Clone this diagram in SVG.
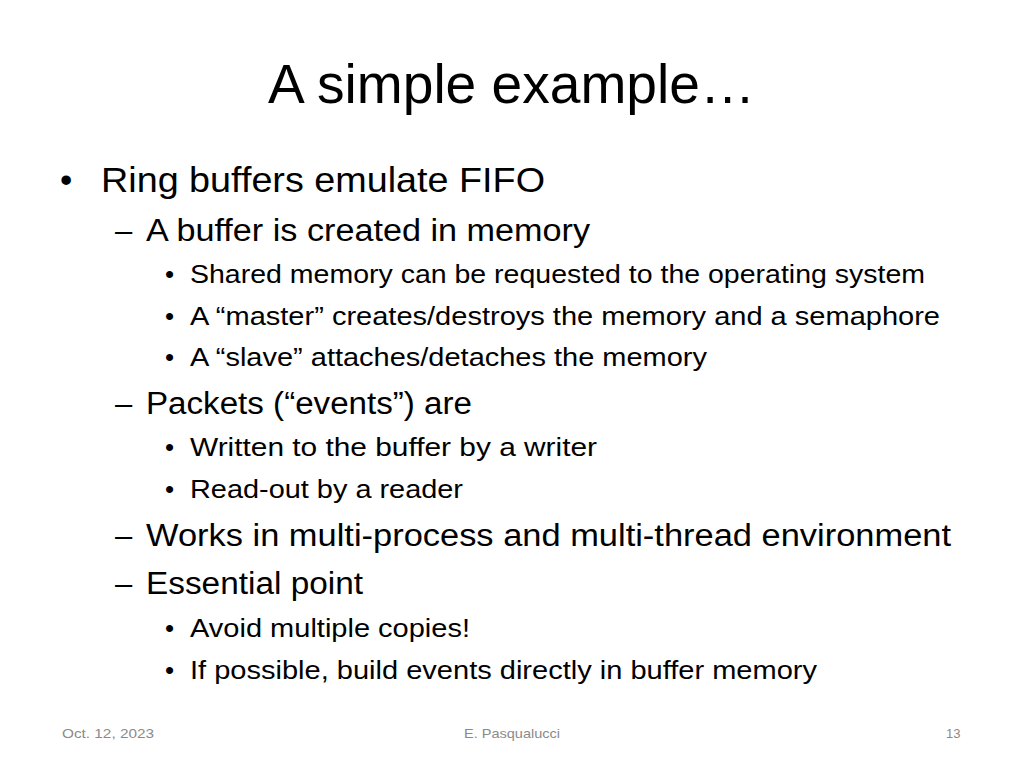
<svg xmlns="http://www.w3.org/2000/svg" width="1024" height="768" viewBox="0 0 1024 768">
<style>
text{font-family:"Liberation Sans","Noto Sans",sans-serif;fill:#000}
.t{font-size:56px}
.l1{font-size:35px}
.l2{font-size:31px}
.l3{font-size:26px}
.f{font-size:13px;fill:#8a8a8a}
</style>
<rect width="1024" height="768" fill="#fff"/>
<text class="t" x="268" y="103" textLength="487" lengthAdjust="spacingAndGlyphs">A simple example…</text>
<text class="l1" x="60" y="192">•</text>
<text class="l1" x="101" y="192" textLength="444" lengthAdjust="spacingAndGlyphs">Ring buffers emulate FIFO</text>
<g class="l2">
<text class="l2" x="115" y="241">–</text>
<text class="l2" x="146" y="241" textLength="444" lengthAdjust="spacingAndGlyphs">A buffer is created in memory</text>
<text class="l2" x="115" y="414">–</text>
<text class="l2" x="146" y="414" textLength="326" lengthAdjust="spacingAndGlyphs">Packets (“events”) are</text>
<text class="l2" x="115" y="546">–</text>
<text class="l2" x="146" y="546" textLength="805" lengthAdjust="spacingAndGlyphs">Works in multi-process and multi-thread environment</text>
<text class="l2" x="115" y="594">–</text>
<text class="l2" x="146" y="594" textLength="217" lengthAdjust="spacingAndGlyphs">Essential point</text>
</g>
<text class="l3" x="165" y="283">•</text><text class="l3" x="190" y="283" textLength="735" lengthAdjust="spacingAndGlyphs">Shared memory can be requested to the operating system</text>
<text class="l3" x="165" y="325">•</text><text class="l3" x="190" y="325" textLength="750" lengthAdjust="spacingAndGlyphs">A “master” creates/destroys the memory and a semaphore</text>
<text class="l3" x="165" y="366">•</text><text class="l3" x="190" y="366" textLength="517" lengthAdjust="spacingAndGlyphs">A “slave” attaches/detaches the memory</text>
<text class="l3" x="165" y="456">•</text><text class="l3" x="190" y="456" textLength="407" lengthAdjust="spacingAndGlyphs">Written to the buffer by a writer</text>
<text class="l3" x="165" y="498">•</text><text class="l3" x="190" y="498" textLength="273" lengthAdjust="spacingAndGlyphs">Read-out  by a reader</text>
<text class="l3" x="165" y="637">•</text><text class="l3" x="190" y="637" textLength="280" lengthAdjust="spacingAndGlyphs">Avoid multiple copies!</text>
<text class="l3" x="165" y="679">•</text><text class="l3" x="190" y="679" textLength="627" lengthAdjust="spacingAndGlyphs">If possible, build events directly in buffer memory</text>
<text class="f" x="62" y="738" textLength="92" lengthAdjust="spacingAndGlyphs">Oct. 12, 2023</text>
<text class="f" x="464" y="738" textLength="96" lengthAdjust="spacingAndGlyphs">E. Pasqualucci</text>
<text class="f" x="946" y="738">13</text>
</svg>
